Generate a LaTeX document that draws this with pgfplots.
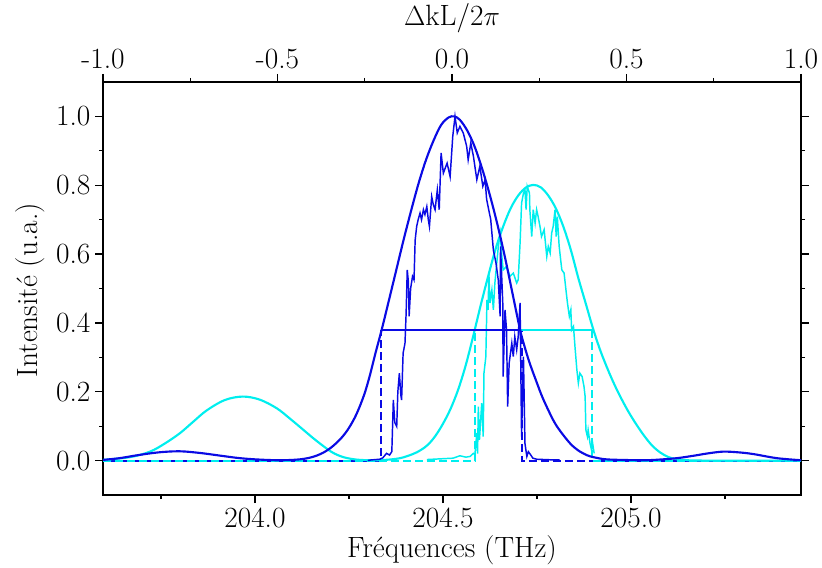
\documentclass[border=0pt]{standalone}
\usepackage{pgfplots}
\pgfplotsset{compat=1.18}
\definecolor{myblue}{RGB}{10,10,228}
\definecolor{mycyan}{RGB}{0,238,238}
\begin{document}
\begin{tikzpicture}
\pgfplotsset{
  common/.style={
    scale only axis, width=523.5pt, height=309.75pt,
    font=\fontsize{22}{26}\selectfont,
    tick align=outside,
    major tick length=6pt, minor tick length=3pt,
    every tick/.style={black, line width=0.9pt},
    axis line style={line width=1pt},
    /pgf/number format/assume math mode=true,
  }
}
\begin{axis}[common, name=main,
  xmin=203.596, xmax=205.452, ymin=-0.1, ymax=1.1,
  xtick={204,204.5,205}, xticklabels={204.0,204.5,205.0},
  minor xtick={203.75,204.25,204.75,205.25},
  ytick={0,0.2,0.4,0.6,0.8,1}, yticklabels={0.0,0.2,0.4,0.6,0.8,1.0},
  minor ytick={0.1,0.3,0.5,0.7,0.9},
  xtick pos=left, ytick pos=both,
  xlabel={Fréquences (THz)},
  xlabel style={at={(axis description cs:0.5,-0.133)}, anchor=center},
  ylabel={Intensité (u.a.)},
  ylabel style={at={(axis description cs:-0.1046,0.496)}, anchor=center},
]
% baselines and dashed verticals
\addplot[myblue, line width=1.5pt, dash pattern=on 6pt off 3pt, dash phase=4.5pt] coordinates {(203.596,0) (204.334,0) (204.334,0.38)};
\addplot[myblue, line width=1.5pt, dash pattern=on 6pt off 3pt, dash phase=4.5pt] coordinates {(204.709,0.38) (204.709,0) (205.452,0)};
\addplot[mycyan, line width=1.5pt, dash pattern=on 6pt off 3pt] coordinates {(203.596,0) (204.586,0) (204.586,0.38)};
\addplot[mycyan, line width=1.5pt, dash pattern=on 6pt off 3pt] coordinates {(204.895,0.38) (204.895,0) (205.452,0)};
% cyan smooth
\addplot[mycyan, line width=1.6pt, smooth, tension=0.55] table {
203.596 0.002
203.668 0.010
203.721 0.026
203.761 0.050
203.801 0.080
203.835 0.112
203.872 0.146
203.920 0.176
203.968 0.186
204.013 0.177
204.058 0.152
204.093 0.122
204.128 0.090
204.154 0.066
204.182 0.042
204.207 0.023
204.235 0.010
204.269 0.003
204.306 0.001
204.346 0.002
204.386 0.007
204.420 0.019
204.440 0.030
204.460 0.046
204.480 0.072
204.500 0.107
204.520 0.150
204.540 0.205
204.560 0.275
204.580 0.360
204.600 0.450
204.620 0.535
204.640 0.615
204.660 0.680
204.680 0.733
204.700 0.770
204.720 0.793
204.740 0.801
204.760 0.794
204.780 0.770
204.800 0.733
204.820 0.680
204.840 0.612
204.860 0.530
204.880 0.455
204.900 0.380
204.920 0.315
204.944 0.250
204.965 0.200
204.989 0.150
205.010 0.112
205.033 0.075
205.055 0.045
205.077 0.024
205.100 0.010
205.122 0.004
205.150 0.001
205.200 0.000
205.452 0.000
};
% cyan noisy
\addplot[mycyan, line width=1.1pt] table {
204.457 0.003
204.492 0.005
204.527 0.007
204.545 0.014
204.561 0.010
204.572 0.012
204.581 0.021
204.585 0.018
204.590 0.080
204.592 0.020
204.594 0.157
204.597 0.060
204.603 0.167
204.607 0.070
204.609 0.254
204.614 0.302
204.617 0.467
204.620 0.438
204.622 0.545
204.625 0.458
204.630 0.496
204.634 0.438
204.638 0.516
204.643 0.574
204.647 0.620
204.652 0.660
204.656 0.600
204.660 0.554
204.669 0.564
204.678 0.535
204.687 0.545
204.696 0.516
204.700 0.525
204.705 0.632
204.709 0.748
204.714 0.777
204.718 0.787
204.721 0.729
204.724 0.797
204.730 0.777
204.731 0.729
204.736 0.651
204.740 0.729
204.745 0.690
204.749 0.729
204.753 0.709
204.758 0.680
204.762 0.651
204.769 0.671
204.776 0.593
204.780 0.622
204.785 0.603
204.789 0.661
204.793 0.680
204.798 0.729
204.801 0.651
204.804 0.709
204.809 0.622
204.816 0.554
204.822 0.545
204.827 0.496
204.831 0.458
204.836 0.419
204.840 0.438
204.842 0.380
204.847 0.390
204.851 0.331
204.856 0.264
204.860 0.225
204.864 0.254
204.870 0.244
204.875 0.215
204.878 0.186
204.880 0.089
204.884 0.070
204.886 0.089
204.891 0.050
204.895 0.031
204.898 0.050
204.902 0.021
};
\addplot[mycyan, line width=1.1pt] coordinates {(204.586,0.38) (204.900,0.38)};
% blue smooth
\addplot[myblue, line width=1.6pt, smooth, tension=0.55] table {
203.596 0.002
203.640 0.007
203.690 0.016
203.745 0.024
203.800 0.027
203.855 0.022
203.910 0.014
203.960 0.007
204.010 0.003
204.060 0.001
204.100 0.002
204.130 0.005
204.155 0.011
204.180 0.022
204.205 0.040
204.230 0.066
204.250 0.095
204.270 0.135
204.290 0.190
204.305 0.245
204.320 0.310
204.337 0.380
204.355 0.460
204.375 0.550
204.395 0.640
204.415 0.725
204.435 0.805
204.455 0.874
204.475 0.930
204.495 0.975
204.515 0.997
204.530 1.000
204.545 0.990
204.565 0.958
204.585 0.910
204.605 0.845
204.625 0.770
204.645 0.685
204.665 0.590
204.685 0.485
204.705 0.380
204.716 0.335
204.730 0.285
204.749 0.228
204.766 0.180
204.793 0.118
204.811 0.087
204.838 0.050
204.859 0.030
204.882 0.016
204.900 0.010
204.930 0.004
204.971 0.002
205.037 0.001
205.077 0.003
205.122 0.007
205.166 0.014
205.205 0.021
205.245 0.026
205.285 0.024
205.325 0.019
205.388 0.007
205.452 0.001
};
% blue noisy
\addplot[myblue, line width=1.1pt] table {
204.300 0.000
204.310 0.002
204.322 0.003
204.332 0.004
204.340 0.008
204.350 0.021
204.358 0.016
204.364 0.026
204.368 0.176
204.372 0.110
204.377 0.099
204.380 0.200
204.384 0.254
204.388 0.190
204.390 0.176
204.394 0.312
204.399 0.341
204.402 0.428
204.405 0.554
204.408 0.520
204.410 0.419
204.414 0.500
204.419 0.535
204.423 0.525
204.426 0.640
204.430 0.680
204.434 0.700
204.439 0.719
204.443 0.700
204.448 0.729
204.452 0.715
204.457 0.738
204.461 0.700
204.464 0.680
204.470 0.767
204.474 0.745
204.479 0.729
204.485 0.787
204.490 0.729
204.495 0.894
204.501 0.835
204.506 0.850
204.511 0.864
204.516 0.840
204.519 0.825
204.526 0.942
204.532 1.000
204.538 0.952
204.545 0.971
204.550 0.960
204.554 0.952
204.563 0.913
204.567 0.874
204.574 0.923
204.578 0.900
204.581 0.884
204.590 0.816
204.598 0.855
204.606 0.797
204.612 0.816
204.616 0.760
204.620 0.738
204.627 0.700
204.634 0.612
204.641 0.574
204.647 0.525
204.652 0.419
204.653 0.622
204.659 0.458
204.660 0.244
204.665 0.438
204.669 0.380
204.672 0.157
204.676 0.283
204.683 0.341
204.687 0.302
204.691 0.360
204.696 0.322
204.700 0.360
204.705 0.458
204.709 0.070
204.714 0.302
204.718 0.050
204.723 0.012
204.727 0.026
204.733 0.017
204.739 0.007
204.749 0.004
204.770 0.003
204.793 0.002
204.810 0.002
};
\addplot[myblue, line width=1.1pt] coordinates {(204.334,0.38) (204.705,0.38)};
\end{axis}
\begin{axis}[common,
  xmin=-1, xmax=1, ymin=0, ymax=1,
  axis x line*=top, axis y line=none,
  xtick={-1,-0.5,0,0.5,1}, xticklabels={-1.0,-0.5,0.0,0.5,1.0},
  minor xtick={-0.75,-0.25,0.25,0.75},
  xlabel={$\Delta$kL/2$\pi$},
  xlabel style={at={(axis description cs:0.5,1.155)}, anchor=center},
]
\end{axis}
\pgfresetboundingbox
\path ([shift={(-77.25pt,-54.75pt)}]main.south west) rectangle ([shift={(15.75pt,61.5pt)}]main.north east);
\end{tikzpicture}
\end{document}
